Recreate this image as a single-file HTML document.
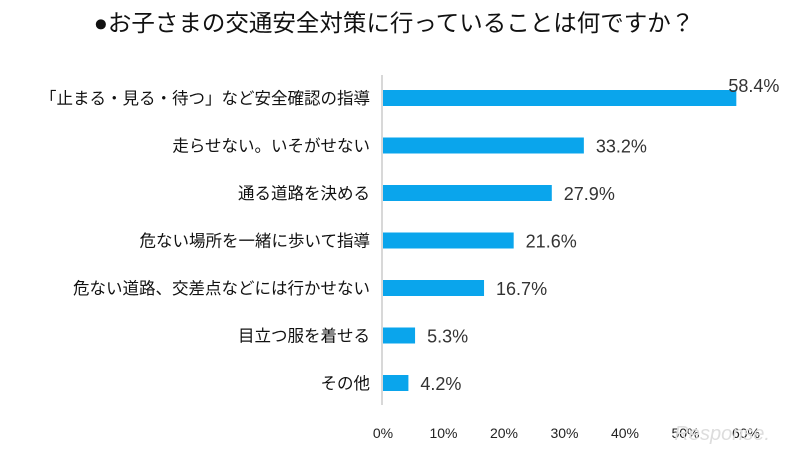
<!DOCTYPE html>
<html><head><meta charset="utf-8"><style>
body{margin:0;background:#fff;}
svg{display:block;font-family:"Liberation Sans","Noto Sans CJK JP",sans-serif;}
</style></head><body>
<svg width="785" height="454">
<text x="394" y="31" text-anchor="middle" font-size="23.5" fill="#111">●お子さまの交通安全対策に行っていることは何ですか？</text>
<line x1="382" y1="75" x2="382" y2="405" stroke="#ccc" stroke-width="1.5"/>
<g id="bars"></g>
<g id="ticks"></g>
<text x="770" y="440" text-anchor="end" font-size="20" font-style="italic" fill="#ddd">Response.</text>
</svg>
<script>
const categories=["「止まる・見る・待つ」など安全確認の指導","走らせない。いそがせない","通る道路を決める","危ない場所を一緒に歩いて指導","危ない道路、交差点などには行かせない","目立つ服を着せる","その他"];
const values=[58.4,33.2,27.9,21.6,16.7,5.3,4.2];
const tickValues=[0,10,20,30,40,50,60];
const tickLabels=["0%","10%","20%","30%","40%","50%","60%"];
const x0=383,pxPer=6.05,y0=98,step=47.5,bh=16;
const xs=v=>x0+v*pxPer;
const ns="http://www.w3.org/2000/svg";
const bars=document.getElementById('bars'),ticks=document.getElementById('ticks');
function mk(tag,attrs,txt){const e=document.createElementNS(ns,tag);for(const k in attrs)e.setAttribute(k,attrs[k]);if(txt!=null)e.textContent=txt;return e;}
categories.forEach((c,i)=>{
  const cy=y0+i*step;
  const r=mk('rect',{x:x0,y:cy-bh/2,width:xs(values[i])-x0,height:bh,fill:'#0aa5ec'});
  
  
  bars.appendChild(r);
  const l=mk('text',{x:370,y:cy+6,'text-anchor':'end','font-size':16.5,fill:'#111'},c);
  
  
  bars.appendChild(l);
  const vy=i===0?cy-12:cy+7;
  const vx=i===0?xs(values[i])-8:xs(values[i])+12;
  const v=mk('text',{x:vx,y:vy+(i===0?6:0),'font-size':18,fill:'#333'},values[i].toFixed(1)+'%');
  
  
  bars.appendChild(v);
});
tickValues.forEach((t,i)=>{
  const e=mk('text',{x:xs(t),y:438,'text-anchor':'middle','font-size':14,fill:'#222'},tickLabels[i]);
  
  
  ticks.appendChild(e);
});
</script>
</body></html>
